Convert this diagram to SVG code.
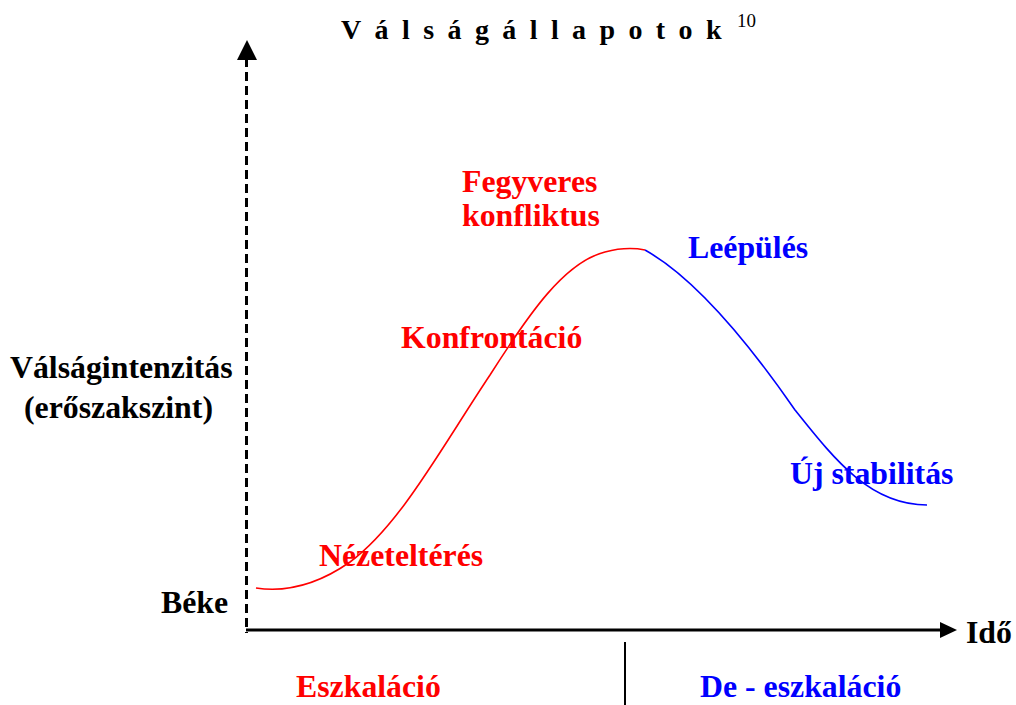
<svg xmlns="http://www.w3.org/2000/svg" width="1016" height="705" viewBox="0 0 1016 705">
<defs>
<style>
.t{font-family:"Liberation Serif","Times New Roman",serif;font-weight:bold;font-size:31.8px}
.k{fill:#000}.r{fill:#ff0000}.b{fill:#0000ff}
.ax{stroke:#000;stroke-width:3;fill:none}
</style>
</defs>
<rect width="1016" height="705" fill="#fff"/>
<g id="title">
<text class="t k" x="341" y="39" style="font-size:28px;letter-spacing:13.4px">Válságállapotok</text>
<text x="737" y="27" style="font-family:'Liberation Serif',serif;font-size:19px">10</text>
</g>
<g id="axes">
<line class="ax" x1="246.5" y1="58" x2="246.5" y2="633" stroke-dasharray="9,5"/>
<polygon points="247,40 237,60 257,60" fill="#000"/>
<line class="ax" x1="246" y1="630" x2="945" y2="630"/>
<polygon points="957,630 940,622 940,638" fill="#000"/>
<line x1="625" y1="642" x2="625" y2="705" stroke="#000" stroke-width="2"/>
</g>
<g id="connectors">
<path d="M256,588 C290,593 320,583 350,562 C400,525 440,450 490,375 C530,312 565,262 605,252 C620,248 635,248 645,250" fill="none" stroke="#ff0000" stroke-width="1.6"/>
<path d="M645,250 C695,278 750,345 795,410 C835,460 870,505 927,505" fill="none" stroke="#0000ff" stroke-width="1.6"/>
</g>
<g id="labels">
<text class="t r" x="462" y="192">Fegyveres</text>
<text class="t r" x="462" y="226">konfliktus</text>
<text class="t b" x="688" y="258">Leépülés</text>
<text class="t r" x="401" y="348">Konfrontáció</text>
<text class="t r" x="319" y="566">Nézeteltérés</text>
<text class="t b" x="790" y="484">Új stabilitás</text>
<text class="t k" x="10" y="378">Válságintenzitás</text>
<text class="t k" x="24" y="418">(erőszakszint)</text>
<text class="t k" x="161" y="613">Béke</text>
<text class="t k" x="966" y="643">Idő</text>
<text class="t r" x="296" y="697">Eszkaláció</text>
<text class="t b" x="700" y="697">De - eszkaláció</text>
</g>
</svg>
